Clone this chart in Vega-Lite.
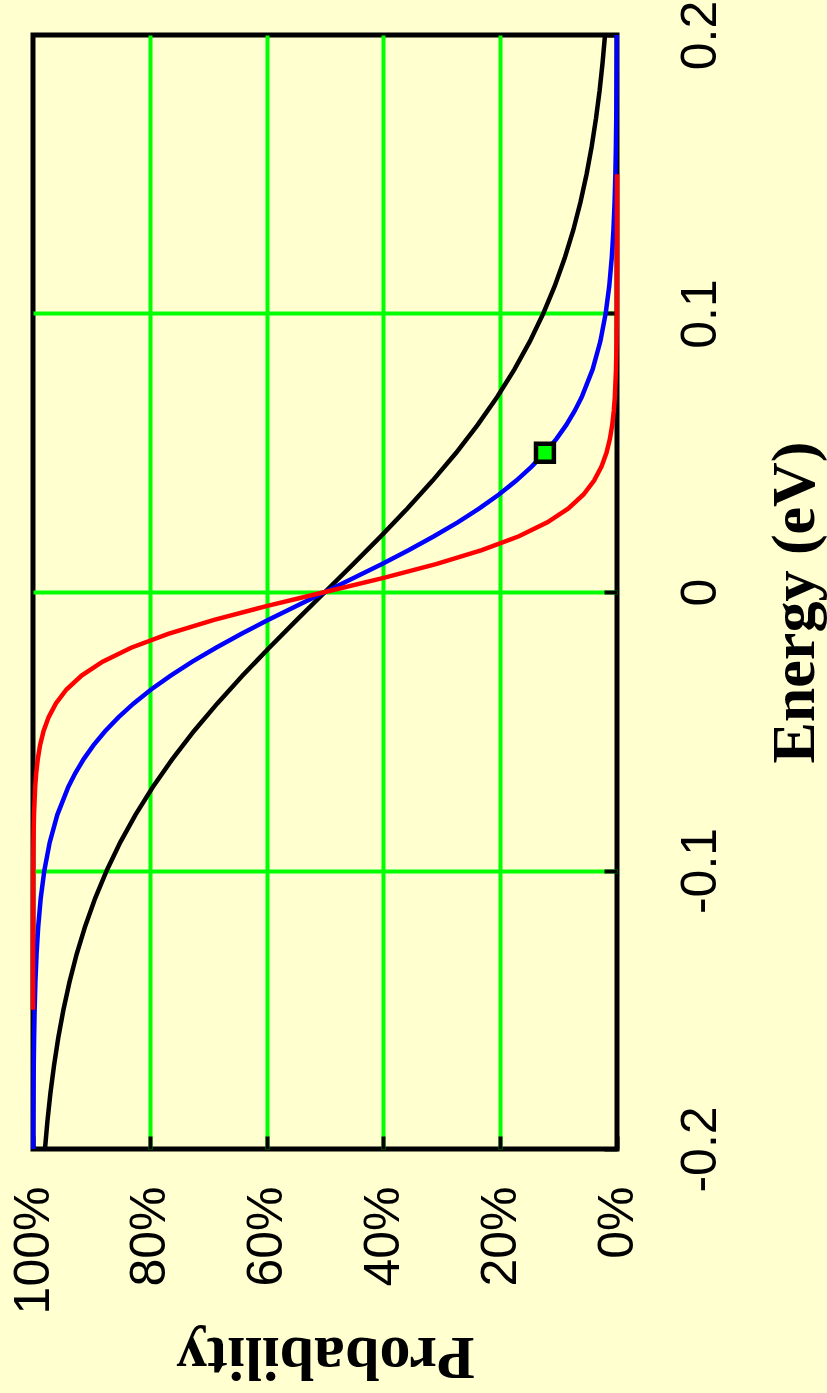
{
  "$schema": "https://vega.github.io/schema/vega-lite/v6.json",
  "width": 584,
  "height": 1114,
  "autosize": {"type": "none"},
  "padding": {"left": 33, "top": 35, "right": 210, "bottom": 244},
  "background": "#FFFFD0",
  "config": {
    "view": {"stroke": "#000000", "strokeWidth": 5, "fill": "#FFFFD0"},
    "axis": {
      "gridColor": "#00FF00",
      "gridWidth": 4,
      "tickColor": "#000000",
      "tickWidth": 4,
      "tickSize": -13,
      "domain": false,
      "labelColor": "#000000",
      "titleColor": "#000000",
      "labelFlush": false,
      "labelOverlap": false,
      "labelBound": false
    }
  },
  "datasets": {
    "fd": [
      {"s": "k", "E": -0.2, "p": 97.95}, {"s": "k", "E": -0.19, "p": 97.53}, {"s": "k", "E": -0.18, "p": 97.02}, {"s": "k", "E": -0.17, "p": 96.40},
      {"s": "k", "E": -0.16, "p": 95.67}, {"s": "k", "E": -0.15, "p": 94.79}, {"s": "k", "E": -0.14, "p": 93.75}, {"s": "k", "E": -0.13, "p": 92.52},
      {"s": "k", "E": -0.12, "p": 91.06}, {"s": "k", "E": -0.11, "p": 89.36}, {"s": "k", "E": -0.1, "p": 87.37}, {"s": "k", "E": -0.09, "p": 85.08},
      {"s": "k", "E": -0.08, "p": 82.46}, {"s": "k", "E": -0.07, "p": 79.48}, {"s": "k", "E": -0.06, "p": 76.14}, {"s": "k", "E": -0.05, "p": 72.46},
      {"s": "k", "E": -0.04, "p": 68.43}, {"s": "k", "E": -0.03, "p": 64.11}, {"s": "k", "E": -0.02, "p": 59.55}, {"s": "k", "E": -0.01, "p": 54.82},
      {"s": "k", "E": 0, "p": 50},
      {"s": "k", "E": 0.01, "p": 45.18}, {"s": "k", "E": 0.02, "p": 40.45}, {"s": "k", "E": 0.03, "p": 35.89}, {"s": "k", "E": 0.04, "p": 31.57},
      {"s": "k", "E": 0.05, "p": 27.54}, {"s": "k", "E": 0.06, "p": 23.86}, {"s": "k", "E": 0.07, "p": 20.52}, {"s": "k", "E": 0.08, "p": 17.54},
      {"s": "k", "E": 0.09, "p": 14.92}, {"s": "k", "E": 0.1, "p": 12.63}, {"s": "k", "E": 0.11, "p": 10.64}, {"s": "k", "E": 0.12, "p": 8.94},
      {"s": "k", "E": 0.13, "p": 7.48}, {"s": "k", "E": 0.14, "p": 6.25}, {"s": "k", "E": 0.15, "p": 5.21}, {"s": "k", "E": 0.16, "p": 4.33},
      {"s": "k", "E": 0.17, "p": 3.60}, {"s": "k", "E": 0.18, "p": 2.98}, {"s": "k", "E": 0.19, "p": 2.47}, {"s": "k", "E": 0.2, "p": 2.05},

      {"s": "b", "E": -0.2, "p": 99.96}, {"s": "b", "E": -0.19, "p": 99.94}, {"s": "b", "E": -0.18, "p": 99.91}, {"s": "b", "E": -0.17, "p": 99.87},
      {"s": "b", "E": -0.16, "p": 99.81}, {"s": "b", "E": -0.15, "p": 99.72}, {"s": "b", "E": -0.14, "p": 99.59}, {"s": "b", "E": -0.13, "p": 99.39},
      {"s": "b", "E": -0.12, "p": 99.10}, {"s": "b", "E": -0.11, "p": 98.68}, {"s": "b", "E": -0.1, "p": 98.06}, {"s": "b", "E": -0.09, "p": 97.15},
      {"s": "b", "E": -0.08, "p": 95.84}, {"s": "b", "E": -0.07, "p": 93.96}, {"s": "b", "E": -0.065, "p": 92.75}, {"s": "b", "E": -0.06, "p": 91.32},
      {"s": "b", "E": -0.055, "p": 89.63}, {"s": "b", "E": -0.05, "p": 87.66}, {"s": "b", "E": -0.045, "p": 85.38}, {"s": "b", "E": -0.04, "p": 82.76},
      {"s": "b", "E": -0.035, "p": 79.78}, {"s": "b", "E": -0.03, "p": 76.43}, {"s": "b", "E": -0.025, "p": 72.72}, {"s": "b", "E": -0.02, "p": 68.66},
      {"s": "b", "E": -0.015, "p": 64.30}, {"s": "b", "E": -0.01, "p": 59.68}, {"s": "b", "E": -0.005, "p": 54.89}, {"s": "b", "E": 0, "p": 50},
      {"s": "b", "E": 0.005, "p": 45.11}, {"s": "b", "E": 0.01, "p": 40.32}, {"s": "b", "E": 0.015, "p": 35.70}, {"s": "b", "E": 0.02, "p": 31.34},
      {"s": "b", "E": 0.025, "p": 27.28}, {"s": "b", "E": 0.03, "p": 23.57}, {"s": "b", "E": 0.035, "p": 20.22}, {"s": "b", "E": 0.04, "p": 17.24},
      {"s": "b", "E": 0.045, "p": 14.62}, {"s": "b", "E": 0.05, "p": 12.34}, {"s": "b", "E": 0.055, "p": 10.37}, {"s": "b", "E": 0.06, "p": 8.68},
      {"s": "b", "E": 0.065, "p": 7.25}, {"s": "b", "E": 0.07, "p": 6.04}, {"s": "b", "E": 0.08, "p": 4.16}, {"s": "b", "E": 0.09, "p": 2.85},
      {"s": "b", "E": 0.1, "p": 1.94}, {"s": "b", "E": 0.11, "p": 1.32}, {"s": "b", "E": 0.12, "p": 0.90}, {"s": "b", "E": 0.13, "p": 0.61},
      {"s": "b", "E": 0.14, "p": 0.41}, {"s": "b", "E": 0.15, "p": 0.28}, {"s": "b", "E": 0.16, "p": 0.19}, {"s": "b", "E": 0.17, "p": 0.13},
      {"s": "b", "E": 0.18, "p": 0.09}, {"s": "b", "E": 0.19, "p": 0.06}, {"s": "b", "E": 0.2, "p": 0.04},

      {"s": "r", "E": -0.15, "p": 100}, {"s": "r", "E": -0.14, "p": 100}, {"s": "r", "E": -0.13, "p": 100}, {"s": "r", "E": -0.12, "p": 99.99},
      {"s": "r", "E": -0.11, "p": 99.98}, {"s": "r", "E": -0.1, "p": 99.97}, {"s": "r", "E": -0.09, "p": 99.93}, {"s": "r", "E": -0.08, "p": 99.83},
      {"s": "r", "E": -0.07, "p": 99.63}, {"s": "r", "E": -0.065, "p": 99.45}, {"s": "r", "E": -0.06, "p": 99.18}, {"s": "r", "E": -0.055, "p": 98.79},
      {"s": "r", "E": -0.05, "p": 98.20}, {"s": "r", "E": -0.045, "p": 97.34}, {"s": "r", "E": -0.04, "p": 96.08}, {"s": "r", "E": -0.035, "p": 94.27},
      {"s": "r", "E": -0.03, "p": 91.68}, {"s": "r", "E": -0.025, "p": 88.08}, {"s": "r", "E": -0.02, "p": 83.20}, {"s": "r", "E": -0.015, "p": 76.85},
      {"s": "r", "E": -0.01, "p": 69.00}, {"s": "r", "E": -0.005, "p": 59.87}, {"s": "r", "E": 0, "p": 50}, {"s": "r", "E": 0.005, "p": 40.13},
      {"s": "r", "E": 0.01, "p": 31.00}, {"s": "r", "E": 0.015, "p": 23.15}, {"s": "r", "E": 0.02, "p": 16.80}, {"s": "r", "E": 0.025, "p": 11.92},
      {"s": "r", "E": 0.03, "p": 8.32}, {"s": "r", "E": 0.035, "p": 5.73}, {"s": "r", "E": 0.04, "p": 3.92}, {"s": "r", "E": 0.045, "p": 2.66},
      {"s": "r", "E": 0.05, "p": 1.80}, {"s": "r", "E": 0.055, "p": 1.21}, {"s": "r", "E": 0.06, "p": 0.82}, {"s": "r", "E": 0.065, "p": 0.55},
      {"s": "r", "E": 0.07, "p": 0.37}, {"s": "r", "E": 0.08, "p": 0.17}, {"s": "r", "E": 0.09, "p": 0.07}, {"s": "r", "E": 0.1, "p": 0.03},
      {"s": "r", "E": 0.11, "p": 0.02}, {"s": "r", "E": 0.12, "p": 0.01}, {"s": "r", "E": 0.13, "p": 0}, {"s": "r", "E": 0.14, "p": 0},
      {"s": "r", "E": 0.15, "p": 0}
    ],
    "marker": [
      {"E": 0.05, "p": 12.34}
    ]
  },
  "encoding": {
    "x": {
      "field": "p",
      "type": "quantitative",
      "scale": {"domain": [0, 100], "reverse": true, "nice": false, "zero": false},
      "axis": {
        "values": [0, 20, 40, 60, 80, 100],
        "labelExpr": "datum.value + '%'",
        "labelAngle": 270,
        "labelAlign": "right",
        "labelBaseline": "middle",
        "labelPadding": 50,
        "labelFont": "Liberation Sans Narrow, Liberation Sans",
        "labelFontSize": 50,
        "gridOpacity": {"condition": {"test": "datum.value === 0 || datum.value === 100", "value": 0}, "value": 1},
        "title": "Probability",
        "titleFont": "Liberation Serif",
        "titleFontSize": 62,
        "titleFontWeight": "bold",
        "titleAngle": 180,
        "titleAlign": "center",
        "titleBaseline": "alphabetic",
        "titleX": 292,
        "titleY": 188
      }
    },
    "y": {
      "field": "E",
      "type": "quantitative",
      "scale": {"domain": [-0.2, 0.2], "nice": false, "zero": false},
      "axis": {
        "orient": "right",
        "values": [-0.2, -0.1, 0, 0.1, 0.2],
        "labelExpr": "'' + datum.value",
        "labelAngle": 270,
        "labelAlign": "center",
        "labelBaseline": "top",
        "labelPadding": 71,
        "labelFont": "Liberation Sans Narrow, Liberation Sans",
        "labelFontSize": 50,
        "gridOpacity": {"condition": {"test": "datum.value === -0.2 || datum.value === 0.2", "value": 0}, "value": 1},
        "title": "Energy (eV)",
        "titleFont": "Liberation Serif",
        "titleFontSize": 62,
        "titleFontWeight": "bold",
        "titleAngle": 270,
        "titleAlign": "center",
        "titleBaseline": "alphabetic",
        "titleX": 196,
        "titleY": 567
      }
    }
  },
  "layer": [
    {
      "data": {"name": "fd"},
      "transform": [{"filter": "datum.s === 'k'"}],
      "mark": {"type": "line", "color": "#000000", "strokeWidth": 4.5},
      "encoding": {"order": {"field": "E", "type": "quantitative"}}
    },
    {
      "data": {"name": "fd"},
      "transform": [{"filter": "datum.s === 'b'"}],
      "mark": {"type": "line", "color": "#0000FF", "strokeWidth": 4.5},
      "encoding": {"order": {"field": "E", "type": "quantitative"}}
    },
    {
      "data": {"name": "fd"},
      "transform": [{"filter": "datum.s === 'r'"}],
      "mark": {"type": "line", "color": "#FF0000", "strokeWidth": 4.5},
      "encoding": {"order": {"field": "E", "type": "quantitative"}}
    },
    {
      "data": {"name": "marker"},
      "mark": {"type": "point", "shape": "square", "filled": true, "fill": "#00FF00", "stroke": "#000000", "strokeWidth": 4.5, "size": 320, "opacity": 1}
    }
  ]
}
